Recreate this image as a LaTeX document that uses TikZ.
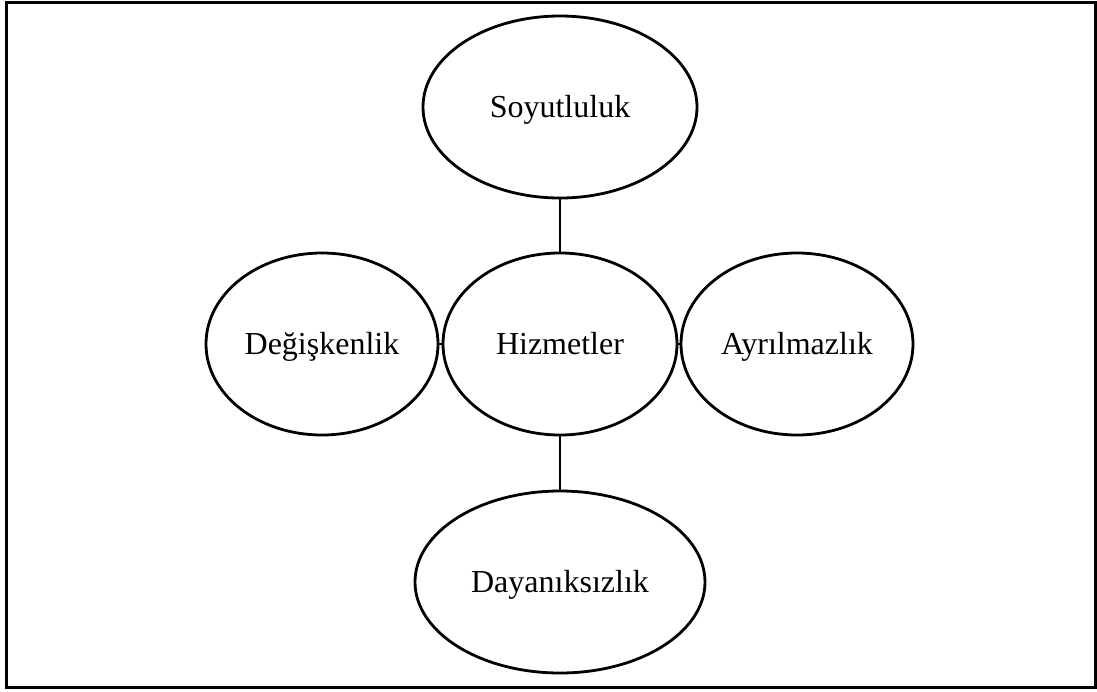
\documentclass[tikz,border=0pt]{standalone}
\usepackage{fontspec}
\setmainfont{Liberation Serif}
\usetikzlibrary{shapes.geometric}
\begin{document}
\begin{tikzpicture}[x=1pt, y=-1pt,
    trait/.style={ellipse, draw=black, line width=2.8pt, inner sep=0pt, outer sep=0pt, minimum height=182pt, minimum width=#1, text height=21pt, text depth=0pt, font=\fontsize{32}{38}\selectfont},
    link/.style={line width=2.8pt}
]
\useasboundingbox (0,0) rectangle (1097,691);
\draw[line width=3pt] (6,2) rectangle (1095,687);

\node[trait=274pt] (soy) at (560,107) {Soyutluluk};
\node[trait=234pt] (hiz) at (560,344) {Hizmetler};
\node[trait=232pt] (deg) at (322,344) {Değişkenlik};
\node[trait=232pt] (ayr) at (797,344) {Ayrılmazlık};
\node[trait=290pt] (day) at (560,582) {Dayanıksızlık};

\draw[link] (soy.south) -- (hiz.north);
\draw[link] (deg.east) -- (hiz.west);
\draw[link] (hiz.east) -- (ayr.west);
\draw[link] (hiz.south) -- (day.north);
\end{tikzpicture}
\end{document}
